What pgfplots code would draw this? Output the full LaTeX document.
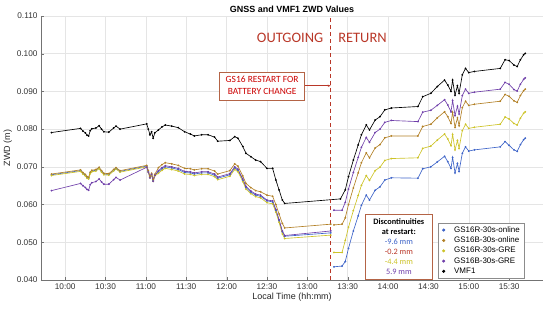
\documentclass[border=0pt]{standalone}
\usepackage{pgfplots}
\pgfplotsset{compat=1.18}
\usepackage{pgfplotstable}
\usetikzlibrary{arrows.meta}
\usepackage{fontspec}
\setmainfont{Liberation Sans}
\newfontfamily\calib{Carlito}
\definecolor{cblue}{RGB}{62,100,200}
\definecolor{corange}{RGB}{178,128,38}
\definecolor{cyellow}{RGB}{205,195,40}
\definecolor{cpurple}{RGB}{112,64,170}
\definecolor{cred}{RGB}{185,55,40}
\definecolor{cbox}{RGB}{180,100,70}

\pgfplotstableread{
t v
9.83 0.0791
10.19 0.0802
10.22 0.0795
10.25 0.0790
10.27 0.0784
10.29 0.0782
10.31 0.0796
10.33 0.0801
10.38 0.0803
10.42 0.0809
10.45 0.0800
10.48 0.0793
10.54 0.0792
10.60 0.0803
10.63 0.0808
10.68 0.0800
11.01 0.0814
11.03 0.0800
11.05 0.0785
11.07 0.0793
11.09 0.0776
11.11 0.0790
11.155 0.0798
11.20 0.0806
11.24 0.0811
11.32 0.0808
11.40 0.0804
11.48 0.0793
11.55 0.0787
11.60 0.0782
11.69 0.0785
11.77 0.0785
11.85 0.0779
11.89 0.0768
12.04 0.0770
12.10 0.0780
12.14 0.0776
12.20 0.0754
12.24 0.0736
12.30 0.0727
12.36 0.0718
12.42 0.0714
12.50 0.0696
12.57 0.0696
12.61 0.0665
12.65 0.0639
12.69 0.0612
12.72 0.0603
13.41 0.0615
13.47 0.0639
13.51 0.0674
13.57 0.0718
13.63 0.0758
13.67 0.0785
13.73 0.0811
13.77 0.0798
13.84 0.0824
13.90 0.0833
13.96 0.0851
14.04 0.0856
14.37 0.0860
14.43 0.0886
14.53 0.0895
14.61 0.0913
14.70 0.0930
14.74 0.0917
14.78 0.0900
14.80 0.0930
14.83 0.0890
14.86 0.0915
14.88 0.0895
14.92 0.0944
14.96 0.0961
15.00 0.0950
15.07 0.0953
15.39 0.0961
15.45 0.0984
15.50 0.0982
15.56 0.0970
15.60 0.0966
15.64 0.0984
15.68 0.0997
15.70 0.1001
}\vmf

\pgfplotstableread{
t o p y b
9.83 .0681 .0637 .0677 .0679
10.19 .0692 .0656 .0688 .0690
10.22 .0685 .0650 .0681 .0683
10.25 .0680 .0645 .0676 .0678
10.27 .0674 .0640 .0670 .0672
10.29 .0672 .0638 .0668 .0670
10.31 .0686 .0653 .0682 .0684
10.33 .0691 .0658 .0687 .0689
10.38 .0693 .0661 .0689 .0691
10.42 .0699 .0668 .0695 .0697
10.45 .0690 .0660 .0686 .0688
10.48 .0683 .0654 .0679 .0681
10.54 .0682 .0654 .0678 .0680
10.60 .0693 .0666 .0689 .0691
10.63 .0698 .0672 .0694 .0696
10.68 .0690 .0665 .0686 .0688
11.01 .0704 .0699 .0700 .0702
11.03 .0690 .0686 .0686 .0688
11.05 .0675 .0671 .0671 .0673
11.07 .0683 .0680 .0679 .0681
11.09 .0666 .0662 .0662 .0664
11.11 .0680 .0677 .0676 .0678
11.155 .0698 .0690 .0683 .0687
11.20 .0706 .0698 .0691 .0695
11.24 .0711 .0703 .0696 .0700
11.32 .0708 .0700 .0693 .0697
11.40 .0704 .0696 .0689 .0693
11.48 .0696 .0688 .0681 .0685
11.55 .0695 .0687 .0680 .0684
11.60 .0692 .0684 .0677 .0681
11.69 .0695 .0687 .0680 .0684
11.77 .0695 .0687 .0680 .0684
11.85 .0689 .0681 .0674 .0678
11.89 .0681 .0673 .0666 .0670
12.04 .0690 .0682 .0675 .0679
12.10 .0708 .0700 .0693 .0697
12.14 .0702 .0694 .0687 .0691
12.20 .0676 .0668 .0661 .0665
12.24 .0656 .0648 .0641 .0645
12.30 .0645 .0636 .0629 .0633
12.36 .0637 .0628 .0621 .0625
12.42 .0634 .0625 .0618 .0622
12.50 .0625 .0612 .0605 .0610
12.57 .0622 .0610 .0602 .0607
12.61 .0600 .0587 .0580 .0584
12.65 .0575 .0560 .0553 .0557
12.69 .0550 .0530 .0522 .0528
12.72 .0538 .0518 .0510 .0516
13.29 .0548 .0530 .0519 .0525
13.31 nan nan nan nan
13.33 .0546 .0585 .0473 .0435
13.43 .0548 .0585 .0473 .0437
13.47 .0565 .0606 .0505 .0449
13.51 .0600 .0641 .0540 .0484
13.57 .0644 .0685 .0584 .0530
13.63 .0684 .0725 .0624 .0570
13.67 .0711 .0752 .0651 .0598
13.73 .0737 .0778 .0677 .0625
13.77 .0724 .0765 .0664 .0612
13.84 .0750 .0791 .0690 .0638
13.90 .0759 .0800 .0699 .0647
13.96 .0777 .0818 .0717 .0665
14.04 .0782 .0823 .0722 .0671
14.37 .0782 .0820 .0724 .0670
14.43 .0807 .0845 .0749 .0695
14.53 .0813 .0850 .0755 .0700
14.61 .0830 .0863 .0771 .0713
14.70 .0846 .0878 .0787 .0728
14.74 .0833 .0864 .0774 .0714
14.78 .0815 .0846 .0756 .0696
14.80 .0845 .0876 .0786 .0725
14.83 .0805 .0836 .0745 .0684
14.86 .0830 .0861 .0770 .0709
14.88 .0809 .0840 .0749 .0688
14.92 .0857 .0889 .0796 .0736
14.96 .0874 .0906 .0813 .0753
15.00 .0863 .0895 .0802 .0742
15.07 .0866 .0898 .0805 .0745
15.39 .0874 .0906 .0813 .0753
15.45 .0892 .0924 .0832 .0767
15.50 .0887 .0919 .0827 .0757
15.56 .0875 .0905 .0815 .0745
15.60 .0871 .0901 .0811 .0741
15.64 .0889 .0919 .0829 .0759
15.68 .0902 .0932 .0842 .0772
15.70 .0906 .0936 .0846 .0776
}\gnss

\begin{document}
\begin{tikzpicture}
\useasboundingbox (-41bp,-29bp) rectangle (509bp,280bp);
\begin{axis}[
  at={(0,0)}, anchor=south west,
  scale only axis, width=502bp, height=264bp,
  xmin=9.7, xmax=15.92, ymin=0.04, ymax=0.11,
  axis lines=left,
  x axis line style={-, draw=black!55},
  y axis line style={-, draw=black!55},
  xtick={10,10.5,11,11.5,12,12.5,13,13.5,14,14.5,15,15.5},
  xticklabels={10:00,10:30,11:00,11:30,12:00,12:30,13:00,13:30,14:00,14:30,15:00,15:30},
  ytick={0.04,0.05,0.06,0.07,0.08,0.09,0.10,0.11},
  yticklabels={0.040,0.050,0.060,0.070,0.080,0.090,0.100,0.110},
  tick align=inside, major tick length=3bp,
  tick style={black!55},
  grid=major, major grid style={black!10, line width=0.5pt},
  tick label style={font=\fontsize{8.3}{10}\selectfont, text=black!80},
  xlabel={Local Time (hh:mm)},
  ylabel={ZWD (m)},
  label style={font=\fontsize{9}{11}\selectfont, text=black!85},
  xlabel style={yshift=3bp},
  ylabel style={yshift=-2bp},
  title={GNSS and VMF1 ZWD Values},
  every axis title/.style={at={(0.5,1)}, anchor=base, yshift=3.5bp, font=\bfseries\fontsize{9}{11}\selectfont},
  unbounded coords=jump,
  every axis plot/.append style={line width=0.65pt, mark=*, mark size=0.55pt},
  legend image code/.code={\path[draw=none, fill=none] (0cm,0cm) rectangle (0.42cm,0.01cm); \fill[#1] (0.12cm,0cm) circle (1.2pt);},
  legend style={at={(0.962,0.217)}, anchor=north east, draw=black!45,
    font=\fontsize{8}{9.5}\selectfont, row sep=-0.8pt, inner xsep=2pt, inner ysep=1.5pt,
    cells={anchor=west}},
]
\addplot[cblue] table[x=t, y=b] {\gnss};
\addlegendentry{GS16R-30s-online}
\addplot[corange] table[x=t, y=o] {\gnss};
\addlegendentry{GS16B-30s-online}
\addplot[cyellow] table[x=t, y=y] {\gnss};
\addlegendentry{GS16R-30s-GRE}
\addplot[cpurple] table[x=t, y=p] {\gnss};
\addlegendentry{GS16B-30s-GRE}
\addplot[black] table[x=t, y=v] {\vmf};
\addlegendentry{VMF1}

\draw[cred, line width=1.1pt, dash pattern=on 4pt off 3pt] (axis cs:13.29,0.04) -- (axis cs:13.29,0.11);
\node[text=cred, font=\calib\fontsize{14.5}{16}\selectfont, anchor=east] at (axis cs:13.24,0.1042) {OUTGOING};
\node[text=cred, font=\calib\fontsize{14.5}{16}\selectfont, anchor=west] at (axis cs:13.34,0.1042) {RETURN};
\node[draw=cbox, fill=white, text=red!80!black, font=\calib\fontsize{9.5}{12}\selectfont, align=center, inner sep=2pt, minimum width=85bp, minimum height=28bp] (rb) at (axis cs:12.44,0.0915) {GS16 RESTART FOR\\BATTERY CHANGE};
\draw[cred, line width=0.6pt, -{Stealth[length=3pt]}] (rb.east) -- (axis cs:13.29,0.0915);
\node[draw=cbox, fill=white, line width=0.6pt, font=\calib\fontsize{8.3}{10}\selectfont, align=center, inner sep=2pt, minimum width=67bp, minimum height=65bp] at (axis cs:14.134,0.0489) {\textbf{Discontinuities}\\\textbf{at restart:}\\\textcolor{cblue}{-9.6 mm}\\\textcolor{cred}{-0.2 mm}\\\textcolor{cyellow}{-4.4 mm}\\\textcolor{cpurple}{5.9 mm}};
\end{axis}
\end{tikzpicture}
\end{document}
